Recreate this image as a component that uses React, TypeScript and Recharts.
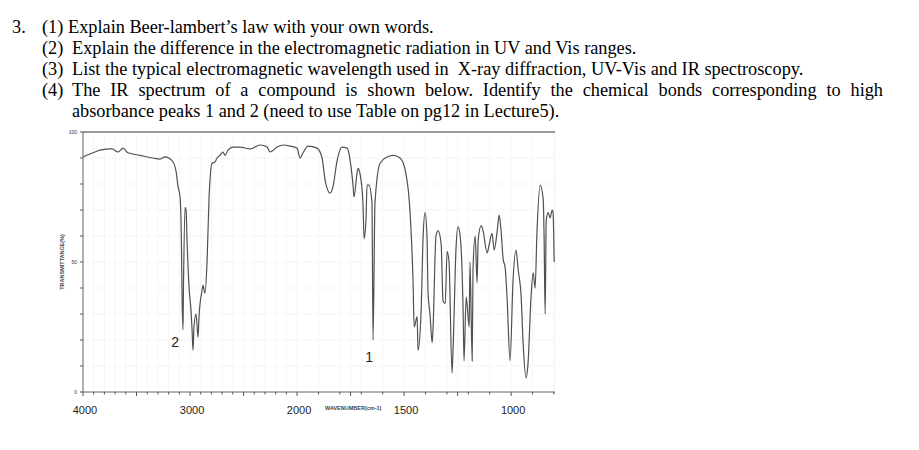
import React from "react";
import { LineChart, Line, XAxis, YAxis, CartesianGrid, ReferenceLine, ReferenceDot } from "recharts";

// IR spectrum: wavenumber (cm-1) and transmittance (%)
const WAVENUMBERS = [
  4000, 3907, 3841, 3729, 3673, 3626, 3579, 3467, 3346, 3280, 3234, 3168, 3131, 3112, 3093, 3080,
  3075, 3066, 3062, 3047, 3037, 3028, 3009, 2991, 2981, 2972, 2963, 2944, 2925, 2916, 2888, 2879,
  2860, 2841, 2822, 2794, 2766, 2748, 2720, 2692, 2673, 2645, 2598, 2533, 2439, 2346, 2280, 2252,
  2187, 2131, 2065, 2000, 1986, 1972, 1949, 1907, 1883, 1869, 1846, 1832, 1813, 1790, 1766, 1752,
  1738, 1734, 1720, 1715, 1706, 1692, 1687, 1678, 1673, 1664, 1650, 1645, 1636, 1612, 1579, 1551,
  1519, 1495, 1472, 1458, 1453, 1439, 1435, 1421, 1411, 1402, 1393, 1388, 1379, 1369, 1365, 1351,
  1341, 1327, 1318, 1308, 1299, 1290, 1276, 1271, 1257, 1248, 1238, 1224, 1220, 1210, 1206, 1196,
  1192, 1182, 1178, 1168, 1159, 1154, 1140, 1131, 1112, 1103, 1089, 1079, 1065, 1056, 1047, 1037,
  1028, 1019, 1005, 991, 977, 967, 953, 944, 930, 921, 907, 897, 888, 879, 864, 850,
  846, 841, 836, 827, 818, 808, 804, 799,
];
const TRANSMITTANCE = [
  90.4, 92, 93, 93.5, 92.3, 93.8, 92, 91, 90, 89.6, 90.4, 89, 85, 79, 75, 56,
  38, 24, 38, 71, 70, 58.5, 40, 31.5, 24, 16, 25, 30, 21, 29, 39, 41,
  38, 50, 75, 88, 88.5, 90, 91, 92.3, 91, 93, 94.2, 94.2, 93.5, 95, 94.2, 92.3,
  94.2, 95, 94.6, 93.8, 90, 92, 94.6, 93.8, 90, 81.5, 76.5, 79, 89, 94.2, 93.8, 89,
  79, 75, 84, 86, 84, 72.7, 59, 66, 79.6, 79.6, 72.7, 20, 72.7, 88, 90.4, 91,
  90, 85.4, 69, 42, 25, 29, 16, 30, 60, 69, 60, 38, 30, 19, 24, 60,
  62, 57, 35, 34, 54, 50, 7.3, 17, 56, 63.5, 60, 30, 12, 36.5, 34, 25,
  50, 12, 47, 60, 42, 58.5, 64, 62, 53.5, 56.5, 61, 54.6, 62, 68, 62, 51,
  48, 36.5, 12, 43, 54.6, 47, 36.5, 19, 5.4, 11, 36.5, 45.8, 40, 62, 79.6, 74,
  60, 30, 66, 69, 67, 70, 69, 50,
];

const X_LABELS = [4000, 3000, 2000, 1500, 1000];
const Y_LABELS = [0, 50, 100];
const PEAK_LABELS = ["2", "1"];
const PEAK_WAVENUMBERS = [3140, 1663];
const PEAK_LABEL_T = [19.2, 13.5];

const QUESTIONS = [
  { num: "(1)", text: "Explain Beer-lambert\u2019s law with your own words." },
  { num: "(2)", text: "Explain the difference in the electromagnetic radiation in UV and Vis ranges." },
  { num: "(3)", text: "List the typical electromagnetic wavelength used in\u00a0 X-ray diffraction, UV-Vis and IR spectroscopy." },
  { num: "(4)", text: "The IR spectrum of a compound is shown below. Identify the chemical bonds corresponding to high", justify: true },
  { num: "", text: "absorbance peaks 1 and 2 (need to use Table on pg12 in Lecture5)." },
];

// the chart's scale doubles below 2000 cm-1
const toPos = (wn: number) => (wn >= 2000 ? 4000 - wn : 2000 + (2000 - wn) * 2);
const fromPos = (p: number) => Math.round(p <= 2000 ? 4000 - p : 2000 - (p - 2000) / 2);

const data = WAVENUMBERS.map((wn, i) => ({ pos: toPos(wn), t: TRANSMITTANCE[i] }));

const xTicks: number[] = [];
for (let wn = 4000; wn >= 2000; wn -= 100) xTicks.push(toPos(wn));
for (let wn = 1900; wn >= 800; wn -= 100) xTicks.push(toPos(wn));
xTicks.push(toPos(1750), toPos(1250));
xTicks.sort((a, b) => a - b);

const yTicks = [0, 10, 20, 30, 40, 50, 60, 70, 80, 90, 100];

const XTick = (props: any) => {
  const { x, y, payload } = props;
  const wn = fromPos(payload.value);
  const major = wn % 500 === 0 || (wn < 2000 && wn % 250 === 0);
  return (
    <g>
      <line x1={x} x2={x} y1={y} y2={y + (major ? 4 : 2.5)} stroke="#555" strokeWidth={1} />
      {X_LABELS.includes(wn) && (
        <text x={x + 2} y={y + 22} textAnchor="middle" fontSize={11} fontFamily="Liberation Sans" fill="#222">
          {wn}
        </text>
      )}
    </g>
  );
};

const YTick = (props: any) => {
  const { x, y, payload } = props;
  return (
    <g>
      <line x1={x - 3} x2={x} y1={y} y2={y} stroke="#555" strokeWidth={1} />
      {Y_LABELS.includes(payload.value) && (
        <text x={x - 6} y={y + 2} textAnchor="end" fontSize={5} fontFamily="Liberation Sans" fill="#333">
          {payload.value}
        </text>
      )}
    </g>
  );
};

export default function App() {
  return (
    <div style={{ position: "relative", width: 919, height: 450, margin: -8, background: "#fff", overflow: "hidden" }}>
      <div style={{ position: "absolute", left: 0, top: 17, fontFamily: "'Liberation Serif', serif", fontSize: 18.3, lineHeight: "21px", color: "#000" }}>
        <span style={{ position: "absolute", left: 12, top: 0, whiteSpace: "nowrap" }}>3.</span>
        {QUESTIONS.map((q, i) => (
          <React.Fragment key={i}>
            {q.num && (
              <span style={{ position: "absolute", left: 42, top: i * 21, whiteSpace: "nowrap" }}>{q.num}</span>
            )}
            <div
              style={{
                position: "absolute",
                left: i === 0 ? 68 : 72,
                top: i * 21,
                width: q.justify ? 811 : undefined,
                whiteSpace: q.justify ? "normal" : "nowrap",
                textAlign: q.justify ? "justify" : "left",
                textAlignLast: q.justify ? "justify" : "auto",
              }}
            >
              {q.text}
            </div>
          </React.Fragment>
        ))}
      </div>

      <div style={{ position: "absolute", left: 0, top: 0 }}>
        <LineChart width={919} height={450} data={data} margin={{ top: 132, right: 364, bottom: 0, left: 53 }}>
          <CartesianGrid stroke="#f5f5f5" strokeWidth={1} />
          <XAxis
            dataKey="pos"
            type="number"
            domain={[0, 4410]}
            ticks={xTicks}
            interval={0}
            tick={<XTick />}
            tickLine={false}
            tickSize={0}
            tickMargin={0}
            height={58}
            axisLine={{ stroke: "#666", strokeWidth: 1 }}
          />
          <YAxis
            type="number"
            domain={[0, 100]}
            ticks={yTicks}
            interval={0}
            tick={<YTick />}
            tickLine={false}
            tickSize={0}
            tickMargin={0}
            width={30}
            axisLine={{ stroke: "#666", strokeWidth: 1 }}
          />
          <ReferenceLine y={100} stroke="#9a9a9a" strokeWidth={2} />
          <Line
            type="monotone"
            dataKey="t"
            stroke="#505050"
            strokeWidth={1.2}
            dot={false}
            isAnimationActive={false}
          />
          {PEAK_LABELS.map((lab, i) => (
            <ReferenceDot
              key={lab}
              x={toPos(PEAK_WAVENUMBERS[i])}
              y={PEAK_LABEL_T[i]}
              r={0}
              stroke="none"
              label={{ value: lab, position: "center", fontSize: 14, fontFamily: "Liberation Sans", fill: "#222" }}
            />
          ))}
        </LineChart>
      </div>

      <div
        style={{
          position: "absolute",
          left: 62,
          top: 262,
          transform: "translate(-50%, -50%) rotate(-90deg)",
          fontFamily: "Liberation Sans",
          fontSize: 5.5,
          fontWeight: "bold",
          color: "#444",
          whiteSpace: "nowrap",
        }}
      >
        TRANSMITTANCE(%)
      </div>
      <div
        style={{
          position: "absolute",
          left: 325,
          top: 405,
          fontFamily: "Liberation Sans",
          fontSize: 5.5,
          fontWeight: "bold",
          color: "#444",
          whiteSpace: "nowrap",
        }}
      >
        WAVENUMBER(cm-1)
      </div>
    </div>
  );
}
